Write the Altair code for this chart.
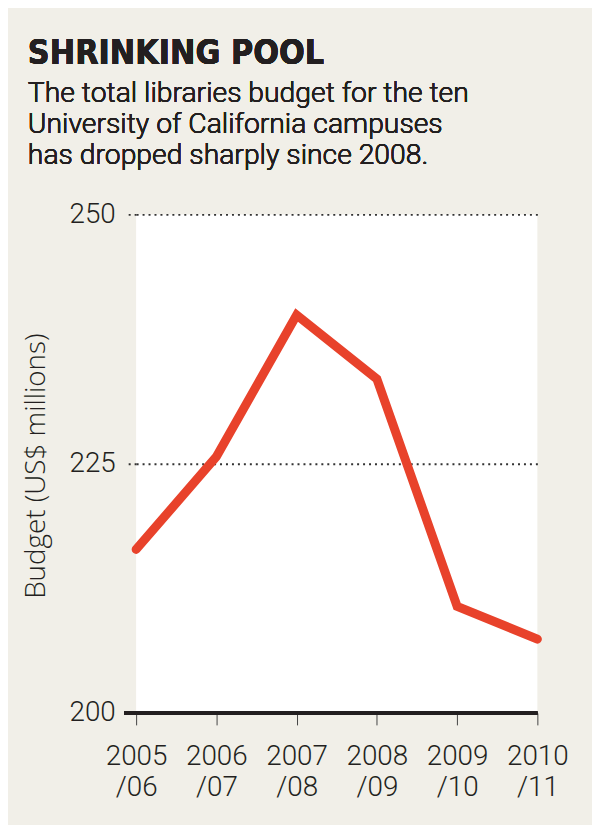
import altair as alt
import pandas as pd

years = ["2005/06", "2006/07", "2007/08", "2008/09", "2009/10", "2010/11"]
budget = [216.4, 225.7, 239.9, 233.5, 210.7, 207.4]
y_ticks = [200, 225, 250]

title_text = "SHRINKING POOL"
subtitle_lines = [
    "The total libraries budget for the ten",
    "University of California campuses",
    "has dropped sharply since 2008.",
]
y_title = "Budget (US$ millions)"

df = pd.DataFrame({"year": years, "budget": budget})

W, H = 404, 502
BG = "#f1efe8"
INK = "#231f20"
RED = "#e8422b"
FONT = "Roboto"

x_enc = alt.X(
    "year:N",
    sort=years,
    scale=alt.Scale(type="point", padding=0),
    axis=alt.Axis(
        title=None,
        domain=False,
        grid=False,
        ticks=True,
        tickSize=12,
        tickWidth=1,
        tickColor="#444444",
        labelFont=FONT,
        labelFontSize=28,
        labelFontWeight=300,
        labelColor=INK,
        labelPadding=18,
        labelLineHeight=31,
        labelAngle=0,
        labelExpr="[slice(datum.value, 0, 4), slice(datum.value, 4)]",
    ),
)

y_enc = alt.Y(
    "budget:Q",
    scale=alt.Scale(domain=[200, 250], nice=False, zero=False),
    axis=alt.Axis(
        values=y_ticks,
        title=y_title,
        titleFont="Open Sans",
        titleFontSize=28,
        titleFontWeight=300,
        titleColor=INK,
        titleAngle=-90,
        titleAlign="center",
        titleBaseline="alphabetic",
        titleX=-92,
        titleY=253,
        domain=False,
        grid=True,
        gridDash=[2, 4],
        gridWidth=2,
        gridColor="#333333",
        ticks=True,
        tickSize=12,
        tickDash=[2, 4],
        tickWidth=2,
        tickColor="#333333",
        labelFont=FONT,
        labelFontSize=28,
        labelFontWeight=300,
        labelColor=INK,
        labelPadding=9,
        labelBaseline="middle",
    ),
)

line = alt.Chart(df).mark_line(
    color=RED, strokeWidth=9, strokeCap="round", strokeJoin="miter"
).encode(x=x_enc, y=y_enc)

base_rule = alt.Chart(df).mark_rule(color=INK, strokeWidth=3.5).encode(
    y=alt.datum(200), x=alt.value(-12), x2=alt.value(W)
)

texts = [
    alt.Chart(df).mark_text(
        text=title_text, font="DejaVu Sans Condensed, sans-serif",
        fontSize=34, fontWeight="bold", align="left", baseline="alphabetic", color=INK
    ).encode(x=alt.value(-109), y=alt.value(-151))
]
for i, ln in enumerate(subtitle_lines):
    texts.append(
        alt.Chart(df).mark_text(
            text=ln, font=FONT, fontSize=28.5, fontWeight=300, align="left",
            baseline="alphabetic", color=INK
        ).encode(x=alt.value(-109), y=alt.value(-113 + 31 * i))
    )

chart = alt.layer(base_rule, line, *texts).properties(
    width=W,
    height=H,
    autosize=alt.AutoSizeParams(type="none"),
    padding={"left": 129, "top": 205, "right": 55, "bottom": 110},
    background=BG,
).configure_view(fill="white", strokeWidth=0)

chart.save("out.html", embed_options={"renderer": "svg", "actions": False})
